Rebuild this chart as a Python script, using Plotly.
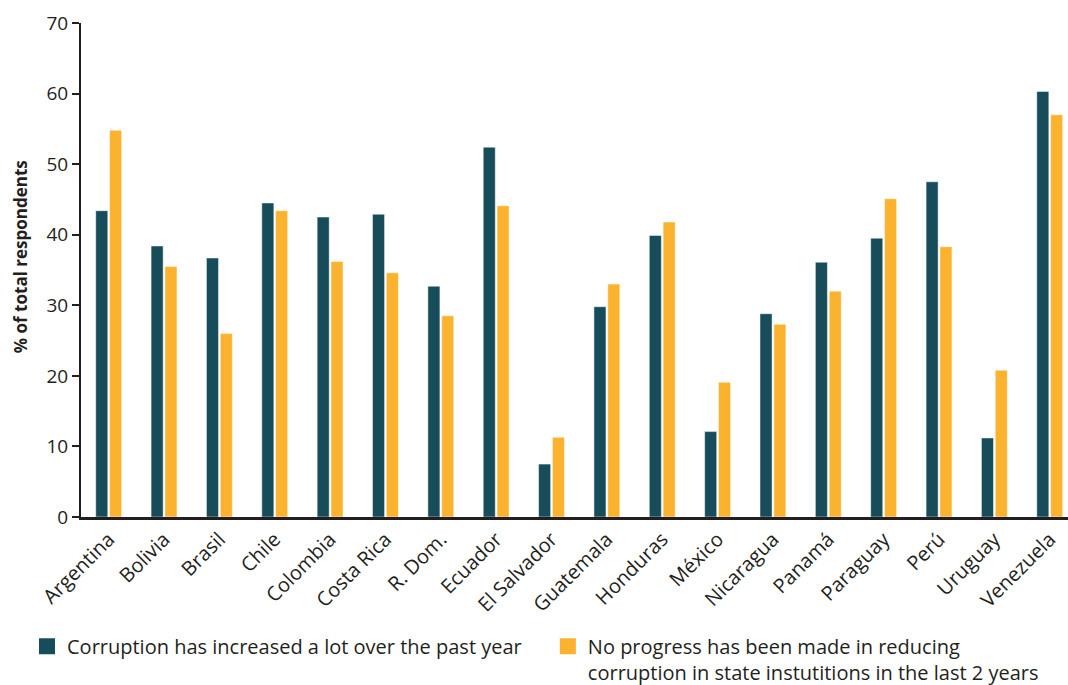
import plotly.graph_objects as go

countries = ["Argentina", "Bolivia", "Brasil", "Chile", "Colombia", "Costa Rica",
             "R. Dom.", "Ecuador", "El Salvador", "Guatemala", "Honduras", "México",
             "Nicaragua", "Panamá", "Paraguay", "Perú", "Uruguay", "Venezuela"]

increased_a_lot = [43.4, 38.4, 36.7, 44.5, 42.5, 42.9, 32.7, 52.4, 7.5, 29.8,
                   39.9, 12.1, 28.8, 36.1, 39.5, 47.5, 11.2, 60.3]

no_progress = [54.8, 35.5, 26.0, 43.4, 36.2, 34.6, 28.5, 44.1, 11.3, 33.0,
               41.8, 19.1, 27.3, 32.0, 45.1, 38.3, 20.8, 57.0]

series_names = ["Corruption has increased a lot over the past year",
                "No progress has been made in reducing<br>corruption in state instutitions in the last 2 years"]

DARK = "#174c5a"
GOLD = "#fbb32f"
INK = "#231f20"
FONT = "'Open Sans', 'Noto Sans', sans-serif"

fig = go.Figure()
outline = dict(color="rgba(255,255,255,0.6)", width=0.8)
fig.add_trace(go.Bar(x=countries, y=increased_a_lot, name=series_names[0],
                     marker=dict(color=DARK, line=outline), showlegend=False))
fig.add_trace(go.Bar(x=countries, y=no_progress, name=series_names[1],
                     marker=dict(color=GOLD, line=outline), showlegend=False))

# square legend keys, each series in its own legend box below the axis
for name, color, leg in zip(series_names, [DARK, GOLD], ["legend", "legend2"]):
    fig.add_trace(go.Scatter(x=[None], y=[None], mode="markers", name=name, legend=leg,
                             marker=dict(symbol="square", size=16, color=color)))

legend_style = dict(xanchor="left", y=-0.222, yanchor="top", valign="top",
                    font=dict(size=20, color=INK), itemsizing="trace",
                    bgcolor="rgba(0,0,0,0)")

fig.update_layout(
    width=1068, height=685,
    margin=dict(l=81, r=0, t=23, b=168, autoexpand=False),
    paper_bgcolor="white", plot_bgcolor="white",
    barmode="group", bargap=0.5, bargroupgap=0.13,
    font=dict(family=FONT, color=INK, size=18),
    showlegend=True,
    legend=dict(x=-0.0547, **legend_style),
    legend2=dict(x=0.473, **legend_style),
    annotations=[dict(text="<b>% of total respondents</b>", textangle=-90,
                      xref="paper", yref="paper", x=-0.0618, y=0.526,
                      xanchor="center", yanchor="middle", showarrow=False,
                      font=dict(size=17, color=INK))],
)

fig.update_xaxes(range=[-0.5, 17.33], showline=True, linecolor=INK, linewidth=2.5,
                 ticks="", tickangle=-45, tickfont=dict(size=20, color=INK),
                 showgrid=False, zeroline=False)
fig.update_yaxes(range=[0, 70], dtick=10, showline=True, linecolor=INK, linewidth=2,
                 ticks="outside", ticklen=7, tickwidth=2, tickcolor=INK,
                 tickfont=dict(size=19, color=INK), showgrid=False, zeroline=False)

fig.write_html("out.html")
